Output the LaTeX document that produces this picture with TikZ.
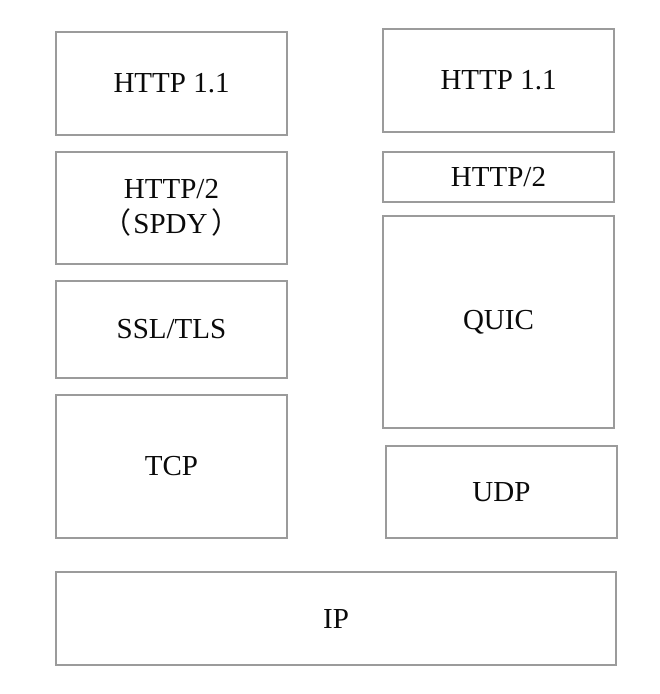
\documentclass[tikz,border=0pt]{standalone}
\usepackage{fontspec}
\setmainfont{Liberation Serif}
\newfontfamily\cjk{Noto Sans CJK SC}
\usepackage{tikz}
\usetikzlibrary{positioning}
\definecolor{edge}{HTML}{9B9B9B}
\definecolor{ink}{HTML}{0A0A0A}

\begin{document}
\begin{tikzpicture}[
    x=1pt, y=1pt,
    layer/.style={draw=edge, line width=1.3pt, fill=white, minimum width=231pt, align=center, inner sep=0pt, outer sep=0pt, text=ink, font=\fontsize{29}{35}\selectfont}
  ]
  \useasboundingbox (0,0) rectangle (660,-694);

  % TCP side
  \node[layer, minimum height=103pt, anchor=north west] (lhttp) at (56,-32) {HTTP 1.1};
  \node[layer, minimum height=112pt, below=17pt of lhttp] (lspdy) {HTTP/2\\{\cjk （}\hspace{2pt}SPDY\hspace{4pt}{\cjk ）}};
  \node[layer, minimum height=97pt, below=17pt of lspdy] (lssl) {SSL/TLS};
  \node[layer, minimum height=143pt, below=17pt of lssl] (ltcp) {TCP};

  % QUIC side
  \node[layer, minimum height=103pt, anchor=north west] (rhttp) at (383,-29) {HTTP 1.1};
  \node[layer, minimum height=50pt, below=20pt of rhttp] (rhttp2) {HTTP/2};
  \node[layer, minimum height=212pt, below=14pt of rhttp2] (rquic) {QUIC};
  \node[layer, minimum height=92pt, below=18pt of rquic, xshift=3pt] (rudp) {UDP};

  % IP
  \node[layer, minimum width=560pt, minimum height=93pt, anchor=north west] (ip) at ([yshift=-34pt]ltcp.south west) {IP};
\end{tikzpicture}
\end{document}
